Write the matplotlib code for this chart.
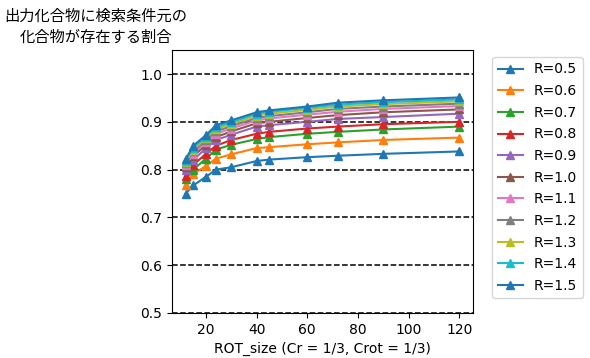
import numpy as np
import matplotlib
matplotlib.use("Agg")
import matplotlib.pyplot as plt

plt.rcParams['font.family'] = ['DejaVu Sans', 'Noto Sans CJK JP']

rot_size = [12, 15, 20, 24, 30, 40, 45, 60, 72, 90, 120]
r_labels = ["R=0.5", "R=0.6", "R=0.7", "R=0.8", "R=0.9", "R=1.0",
            "R=1.1", "R=1.2", "R=1.3", "R=1.4", "R=1.5"]

r05 = [0.750, 0.767, 0.785, 0.800, 0.805, 0.818, 0.821, 0.826, 0.829, 0.833, 0.838]
r06 = [0.768, 0.790, 0.808, 0.823, 0.832, 0.845, 0.847, 0.853, 0.857, 0.862, 0.867]
r07 = [0.780, 0.800, 0.823, 0.842, 0.852, 0.864, 0.868, 0.875, 0.879, 0.884, 0.890]
r08 = [0.787, 0.810, 0.833, 0.850, 0.862, 0.875, 0.879, 0.886, 0.890, 0.895, 0.900]
r09 = [0.800, 0.820, 0.845, 0.862, 0.873, 0.890, 0.893, 0.900, 0.906, 0.910, 0.917]
r10 = [0.805, 0.828, 0.852, 0.868, 0.880, 0.897, 0.900, 0.908, 0.914, 0.920, 0.926]
r11 = [0.810, 0.833, 0.858, 0.875, 0.886, 0.903, 0.907, 0.915, 0.921, 0.927, 0.933]
r12 = [0.813, 0.838, 0.862, 0.880, 0.891, 0.908, 0.912, 0.920, 0.927, 0.932, 0.938]
r13 = [0.816, 0.842, 0.866, 0.885, 0.895, 0.913, 0.917, 0.925, 0.932, 0.937, 0.943]
r14 = [0.819, 0.846, 0.869, 0.889, 0.899, 0.917, 0.921, 0.929, 0.936, 0.941, 0.947]
r15 = [0.822, 0.850, 0.872, 0.893, 0.903, 0.920, 0.924, 0.932, 0.940, 0.945, 0.951]

series = [r05, r06, r07, r08, r09, r10, r11, r12, r13, r14, r15]

fig = plt.figure(figsize=(5.9, 3.58), dpi=100)
ax = fig.add_axes([0.2915, 0.1257, 0.5102, 0.7343])

for vals, lab in zip(series, r_labels):
    ax.plot(rot_size, vals, marker='^', label=lab)

ax.set_ylim(0.5, 1.05)
ax.set_yticks([0.5, 0.6, 0.7, 0.8, 0.9, 1.0])
ax.grid(axis='y', color='black', linestyle='--', linewidth=1.1)
ax.set_xlabel("ROT_size (Cr = 1/3, Crot = 1/3)")

fig.text(0.163, 0.925, "出力化合物に検索条件元の\n化合物が存在する割合",
         ha='center', va='center', fontsize=11,
         family=['Noto Sans CJK JP', 'DejaVu Sans'], linespacing=1.25)

ax.legend(loc='upper left', bbox_to_anchor=(1.05, 0.99), fontsize=10,
          labelspacing=0.55, handlelength=1.8, borderaxespad=0.3)

fig.savefig("out.png", dpi=100)
